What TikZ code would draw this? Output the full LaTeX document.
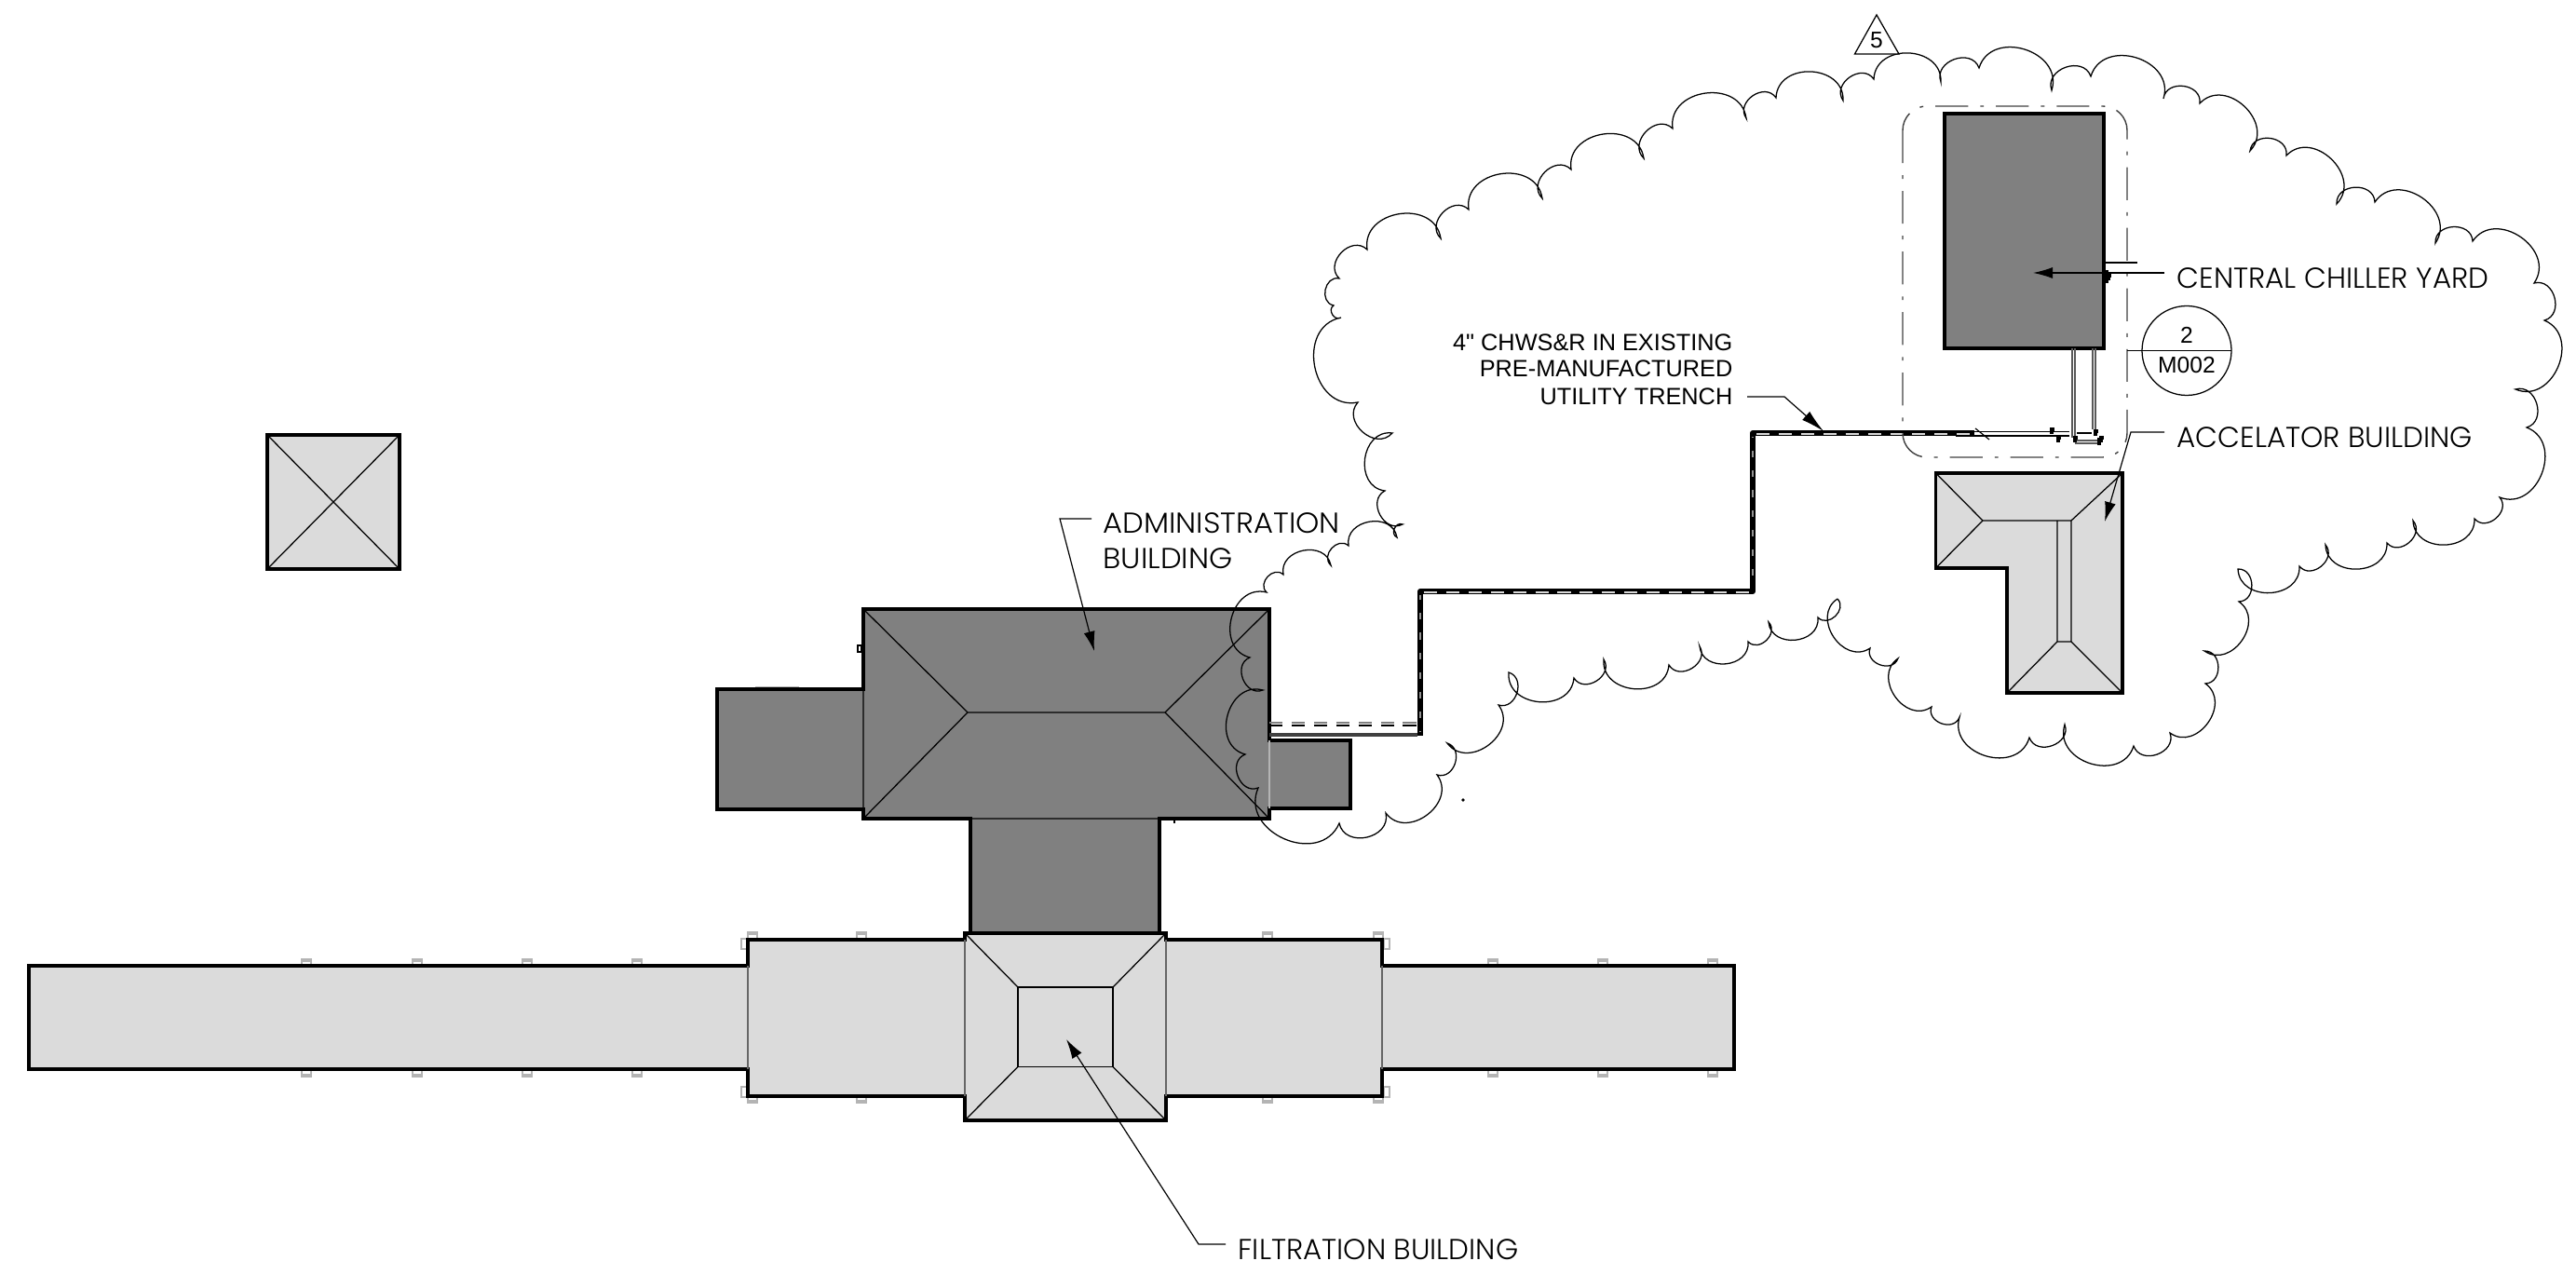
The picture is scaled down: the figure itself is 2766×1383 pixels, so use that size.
\documentclass[tikz,border=0pt]{standalone}
\usepackage{fontspec}
\usetikzlibrary{arrows.meta}
\setmainfont{Liberation Sans}
\newfontfamily\plainf{Liberation Sans}
\newfontfamily\lab[FakeStretch=1.0]{Poppins Light}
\newfontfamily\labwide[FakeStretch=1.04]{Poppins Light}
\definecolor{darkroof}{HTML}{808080}
\definecolor{lightroof}{HTML}{DBDBDB}
\definecolor{tickgray}{HTML}{B4B4B4}
\tikzset{
  wall/.style={line width=1.05pt,line join=miter},
  hair/.style={line width=0.36pt},
  lobe/.style={bend left=90,looseness=1.4},
  leader/.style={line width=0.34pt,-{Latex[length=0.21cm,width=0.12cm]}},
  label/.style={font=\lab\fontsize{8.8}{10}\selectfont,anchor=base west,inner sep=0pt},
  labelwide/.style={font=\labwide\fontsize{8.8}{10}\selectfont,anchor=base west,inner sep=0pt},
  note/.style={font=\plainf\fontsize{7.2}{8}\selectfont,anchor=base east,inner sep=0pt},
  tickbox/.style={draw=tickgray,line width=0.3pt,fill=white},
  fine/.style={line width=0.34pt},
  blot/.style={line width=0.9pt,black}
}
\begin{document}
\begin{tikzpicture}[x=0.01cm,y=-0.01cm]
\useasboundingbox (0,0) rectangle (2766,1383);
% small wall ticks
\foreach \t in {329,448,566,684,1603,1721,1839}{
  \draw[tickbox] (\t-5,1030) rectangle (\t+5,1037);
  \draw[tickgray,line width=0.3pt] (\t-5,1032) -- (\t+5,1032);
  \draw[tickbox] (\t-5,1148) rectangle (\t+5,1156);
  \draw[tickgray,line width=0.3pt] (\t-5,1154) -- (\t+5,1154);
}
\foreach \t in {808,925,1361,1480}{
  \draw[tickbox] (\t-5,1001) rectangle (\t+5,1009);
  \draw[tickgray,line width=0.3pt] (\t-5,1003) -- (\t+5,1003);
  \draw[tickbox] (\t-5,1177) rectangle (\t+5,1184);
  \draw[tickgray,line width=0.3pt] (\t-5,1182) -- (\t+5,1182);
}
\foreach \t in {796,1486}{
  \draw[tickbox] (\t,1008) rectangle (\t+6,1019);
  \draw[tickbox] (\t,1167) rectangle (\t+6,1178);
}
% lone square
\draw[wall,fill=lightroof] (287,467) rectangle (429,611);
\draw[hair] (287,467) -- (429,611) (429,467) -- (287,611);
% administration building
\draw[tickgray,line width=0.5pt] (811,738) -- (858,738);
\draw[wall,fill=darkroof] (770,740) -- (927,740) -- (927,654) -- (1363,654) -- (1363,795) -- (1450,795) -- (1450,868) -- (1363,868) -- (1363,879) -- (1245,879) -- (1245,1002) -- (1042,1002) -- (1042,879) -- (927,879) -- (927,869) -- (770,869) -- cycle;
\draw[hair] (927,654) -- (1039,765) -- (1251,765) -- (1363,654)
  (927,879) -- (1039,765) (1251,765) -- (1363,879)
  (927,740) -- (927,869) (1042,879) -- (1245,879);
\draw[tickgray,line width=0.3pt] (1363,795) -- (1363,868);
\draw[line width=0.4pt] (921,693) rectangle (925,700);
\draw[line width=0.7pt] (926,705) -- (926,715) (1261,879) -- (1261,884);
% filtration building
\draw[wall,fill=lightroof] (31,1037) -- (803,1037) -- (803,1009) -- (1036,1009) -- (1036,1002) -- (1252,1002) -- (1252,1009) -- (1484,1009) -- (1484,1037) -- (1862,1037) -- (1862,1148) -- (1484,1148) -- (1484,1177) -- (1252,1177) -- (1252,1203) -- (1036,1203) -- (1036,1177) -- (803,1177) -- (803,1148) -- (31,1148) -- cycle;
\draw[line width=0.36pt,black!60] (803,1037) -- (803,1148) (1484,1037) -- (1484,1148) (1036,1009) -- (1036,1177) (1252,1009) -- (1252,1177);
\draw[hair] (1093,1060) rectangle (1195,1145.5);
\draw[hair] (1036,1002) -- (1093,1060) (1252,1002) -- (1195,1060) (1036,1203) -- (1093,1145.5) (1252,1203) -- (1195,1145.5);
% central chiller yard
\draw[wall,fill=darkroof] (2088,122) rectangle (2259,374);
% accelerator building
\draw[wall,fill=lightroof] (2078.5,508) -- (2279,508) -- (2279,744) -- (2155,744) -- (2155,610) -- (2078.5,610) -- cycle;
\draw[hair] (2078.5,508) -- (2129,559) -- (2224,559) -- (2279,508)
  (2078.5,610) -- (2129,559)
  (2209,559) -- (2209,689) -- (2224,689) -- (2224,559)
  (2155,744) -- (2209,689) (2279,744) -- (2224,689);
% trench
\draw[darkroof,line width=0.4pt,dash pattern=on 4pt off 2.8pt] (1363,776) -- (1525,776);
\draw[black,line width=0.36pt,dash pattern=on 4pt off 2.8pt] (1363,779) -- (1525,779);
\draw[black!75,line width=1pt] (1363,789) -- (1522,789);
\draw[black,line width=1.7pt,line join=round] (1525,790) -- (1525,635) -- (1882,635) -- (1882,465) -- (2120,465);
\draw[darkroof!85,line width=0.8pt] (1525,786) -- (1525,639) (1882,631) -- (1882,469);
\draw[black,line width=0.45pt,dash pattern=on 4pt off 2pt] (1525,785) -- (1525,638);
\draw[white!85!black,line width=0.45pt,dash pattern=on 4pt off 2.8pt] (1529,636) -- (1879,636);
\draw[black,line width=0.45pt,dash pattern=on 4pt off 2pt] (1882,632) -- (1882,470);
\draw[white!85!black,line width=0.45pt,dash pattern=on 4pt off 2.8pt] (1886,466) -- (2120,466);
\draw[fine] (2100,463.5) -- (2222,463.5) (2100,468) -- (2222,468);
\draw[fine] (2121,460) -- (2136,472);
% chilled water risers
\draw[black!65,line width=0.4pt] (2225,374) -- (2225,470) (2228,374) -- (2228,473) -- (2256,473) (2228,476) -- (2256,476)
  (2247,374) -- (2247,461) (2250,374) -- (2250,466);
\draw[fine] (2230,465) -- (2246,465);
\foreach \a/\b in {2201/461,2208/470,2226/470,2248/463,2254/470,2262/296}{
  \draw[blot] (\a,\b) -- ++(5,0) ++(-3,0) -- ++(0,5);
}
\draw[blot] (2262,290) -- (2262,304);
\draw[blot] (2254,470) -- (2254,478);
% enclosure
\draw[black!75,line width=0.4pt,dash pattern=on 10pt off 3.7pt on 1.1pt off 3.7pt,rounded corners=0.26cm] (2043,114) rectangle (2284,491);
% revision cloud
\draw[hair] (1973,643) to[lobe] (1952,663) to[lobe] (1899,668) to[lobe] (1877,689) to[lobe] (1825,694) to[lobe] (1792,714)
  to[lobe] (1722,708) to[lobe] (1690,728) to[lobe] (1620,722) to[lobe] (1609,757) to[lobe] (1554,798) to[lobe] (1543,832)
  to[lobe] (1488,873) to[lobe] (1438,884) to[lobe] (1351,846) to[lobe] (1337,810) to[lobe] (1356,741) to[lobe] (1342,706)
  to[lobe] (1360,636) to[lobe] (1378,617) to[lobe] (1429,607) to[lobe] (1448,586) to[lobe] (1500,577) to[lobe] (1506,563)
  to[lobe] (1487,527) to[lobe] (1495,465) to[lobe] (1458,432) to[lobe] (1440,341) to[lobe] (1432,328) to[lobe] (1438,299)
  to[lobe] (1468,268) to[lobe] (1547,256) to[lobe] (1577,225) to[lobe] (1656,213) to[lobe] (1687,182) to[lobe] (1765,170)
  to[lobe] (1796,138) to[lobe] (1875,127) to[lobe] (1907,105) to[lobe] (1979,108) to[lobe] (2012,85) to[lobe] (2084,88)
  to[lobe] (2125,73) to[lobe] (2203,97) to[lobe] (2245,82) to[lobe] (2323,106) to[lobe] (2362,111) to[lobe] (2416,162)
  to[lobe] (2455,167) to[lobe] (2509,219) to[lobe] (2550,217) to[lobe] (2615,261) to[lobe] (2655,259) to[lobe] (2721,304)
  to[lobe] (2732,344) to[lobe] (2701,418) to[lobe] (2713,459) to[lobe] (2684,534) to[lobe] (2657,557) to[lobe] (2591,559)
  to[lobe] (2563,583) to[lobe] (2497,585) to[lobe] (2469,608) to[lobe] (2403,611) to[lobe] (2404,646) to[lobe] (2367,699)
  to[lobe] (2368,734) to[lobe] (2330,787) to[lobe] (2291,801) to[lobe] (2217,778) to[lobe] (2179,792) to[lobe] (2104,770)
  to[lobe] (2074,759) to[lobe] (2038,707) to[lobe] (2008,696) to[lobe] (1973,643);
\fill (1571,859) circle (1.8);
% revision triangle
\coordinate (ta) at (2015,16);
\coordinate (tb) at (1991.5,58);
\coordinate (tc) at (2039,58);
\draw[hair,fill=white] (ta) -- (tb) -- (tc) -- cycle;
\node[font=\fontsize{7}{8}\selectfont,inner sep=0pt] (revnum) at (2015,43) {5};
% section marker
\coordinate (secl) at (2284,376.5);
\coordinate (secr) at (2396,376.5);
\coordinate (secc) at (2348,376.5);
\draw[hair] (secc) circle (48);
\draw[hair] (secl) -- (secr);
\node[font=\fontsize{7}{8}\selectfont,inner sep=0pt] (secn) at (2348,360) {2};
\node[font=\fontsize{7}{8}\selectfont,inner sep=0pt] (secs) at (2348,392) {M002};
\draw[hair] (2259,282) -- (2295,282);
% labels
\node[label] (chiller) at (2337,310) {CENTRAL CHILLER YARD};
\node[label] (accel) at (2337,481) {ACCELATOR BUILDING};
\node[labelwide] (admin) at (1184,573) {ADMINISTRATION};
\node[labelwide] (admin2) at (1184,611) {BUILDING};
\node[label] (filt) at (1329,1352) {FILTRATION BUILDING};
\node[note] (tr1) at (1861,377) {4" CHWS\&R IN EXISTING};
\node[note] (tr2) at (1861,405) {PRE-MANUFACTURED};
\node[note] (tr3) at (1861,435) {UTILITY TRENCH};
% leaders
\coordinate (chs) at (2324,293); \coordinate (cht) at (2183,293);
\coordinate (acs) at (2324,464); \coordinate (acb) at (2288,464); \coordinate (act) at (2260,560);
\coordinate (ads) at (1172,557); \coordinate (adb) at (1138,557); \coordinate (adt) at (1175,699);
\coordinate (fis) at (1316,1336); \coordinate (fib) at (1287,1336); \coordinate (fit) at (1145,1116);
\coordinate (trs) at (1876,426); \coordinate (trb) at (1916,426); \coordinate (trt) at (1958,463);
\draw[leader] (chs) -- (cht);
\draw[leader] (acs) -- (acb) -- (act);
\draw[leader] (ads) -- (adb) -- (adt);
\draw[leader] (fis) -- (fib) -- (fit);
\draw[line width=0.34pt,-{Latex[length=0.25cm,width=0.12cm]}] (trs) -- (trb) -- (trt);
\end{tikzpicture}
\end{document}
